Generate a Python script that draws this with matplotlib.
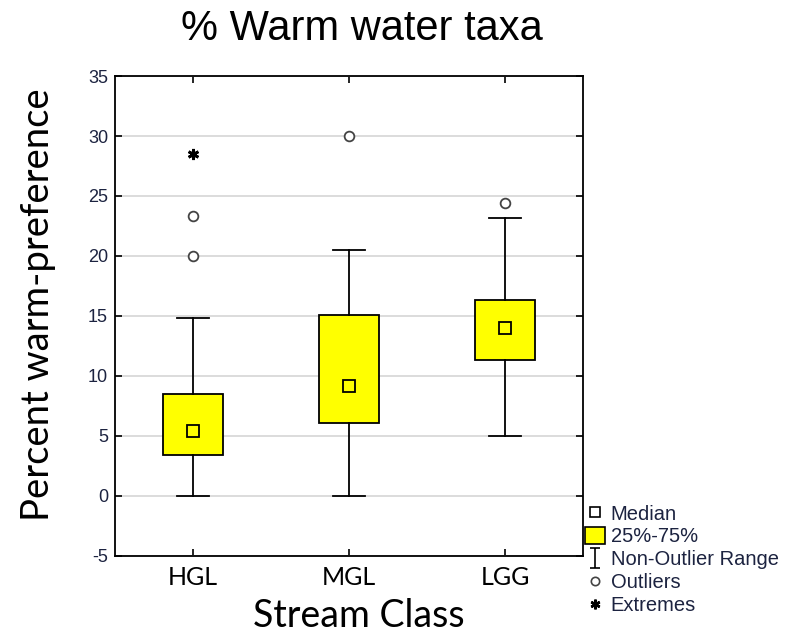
import matplotlib.pyplot as plt
from matplotlib.lines import Line2D
from matplotlib.patches import Patch
from matplotlib.path import Path

plt.rcParams['axes.unicode_minus'] = False

# Data
classes = ['HGL', 'MGL', 'LGG']
medians = [5.4, 9.2, 14.0]
q1 = [3.4, 6.1, 11.3]
q3 = [8.5, 15.1, 16.3]
whisk_lo = [0.0, 0.0, 5.0]
whisk_hi = [14.8, 20.5, 23.2]
outliers = [[20.0, 23.3], [30.0], [24.4]]
extremes = [[28.5], [], []]

box_yellow = '#ffff00'
text_col = '#1c2340'

fig = plt.figure(figsize=(7.98, 6.36), dpi=100)
ax = fig.add_axes([0.1441, 0.1258, 0.5865, 0.7547])

stats = []
for i, c in enumerate(classes):
    stats.append({'label': c, 'med': medians[i], 'q1': q1[i], 'q3': q3[i],
                  'whislo': whisk_lo[i], 'whishi': whisk_hi[i], 'fliers': []})

pos = [1, 2, 3]
ax.bxp(stats, positions=pos, widths=0.39, capwidths=0.2, patch_artist=True,
       showfliers=False,
       boxprops=dict(facecolor=box_yellow, edgecolor='black', linewidth=1.3),
       whiskerprops=dict(color='black', linewidth=1.3),
       capprops=dict(color='black', linewidth=1.3),
       medianprops=dict(linewidth=0))

# median markers
ax.plot(pos, medians, linestyle='none', marker='s', markersize=8,
        markerfacecolor=box_yellow, markeredgecolor='black', markeredgewidth=1.3, zorder=5)

# outliers and extremes
for i, p in enumerate(pos):
    if outliers[i]:
        ax.plot([p] * len(outliers[i]), outliers[i], linestyle='none', marker='o',
                markersize=7, markerfacecolor='white', markeredgecolor='#444444',
                markeredgewidth=1.3)
    if extremes[i]:
        ax.plot([p] * len(extremes[i]), extremes[i], linestyle='none', marker=(6, 2, 0),
                markersize=8, markeredgecolor='black', markeredgewidth=2)

ax.set_xlim(0.5, 3.5)
ax.set_ylim(-5, 35)
ax.set_yticks(range(-5, 36, 5))
ax.set_xticks(pos)
ax.set_xticklabels(classes, fontsize=18, family='Lato')
for t in ax.get_yticklabels():
    t.set_fontsize(13)
    t.set_family('Liberation Sans')
    t.set_color(text_col)
ax.tick_params(direction='in', top=True, right=True, length=5, width=1.2)
ax.tick_params(axis='x', pad=7)
ax.tick_params(axis='y', pad=5)
ax.yaxis.grid(True, color='#d9d9d9', linewidth=1.3)
ax.set_axisbelow(True)
for s in ax.spines.values():
    s.set_linewidth(1.3)

fig.text(0.454, 0.955, '% Warm water taxa', ha='center', va='center',
         fontsize=30, family='Liberation Sans')
ax.set_ylabel('Percent warm-preference', fontsize=27.5, family='Lato')
ax.yaxis.set_label_coords(-0.127, 0.523)
ax.set_xlabel('Stream Class', fontsize=27, family='Lato')
ax.xaxis.set_label_coords(0.52, -0.088)

# legend
whisker_path = Path([(-0.5, -1), (0.5, -1), (0, -1), (0, 1), (-0.5, 1), (0.5, 1)],
                    [Path.MOVETO, Path.LINETO, Path.MOVETO, Path.LINETO, Path.MOVETO, Path.LINETO])
handles = [
    Line2D([], [], linestyle='none', marker='s', markersize=7, markerfacecolor='white',
           markeredgecolor='black', markeredgewidth=1.2),
    Patch(facecolor=box_yellow, edgecolor='black', linewidth=1.2),
    Line2D([], [], linestyle='none', marker=whisker_path, markersize=14,
           markeredgecolor='black', markeredgewidth=1.2),
    Line2D([], [], linestyle='none', marker='o', markersize=6, markerfacecolor='white',
           markeredgecolor='#444444', markeredgewidth=1.2),
    Line2D([], [], linestyle='none', marker=(6, 2, 0), markersize=7,
           markeredgecolor='black', markeredgewidth=1.8),
]
labels = ['Median', '25%-75%', 'Non-Outlier Range', 'Outliers', 'Extremes']
leg = fig.legend(handles, labels, loc='upper left', bbox_to_anchor=(0.72, 0.223),
                 frameon=False, handlelength=1.0, handleheight=0.9,
                 handletextpad=0.3, labelspacing=0.18, borderpad=0,
                 prop={'family': 'Liberation Sans', 'size': 14.5})
for t in leg.get_texts():
    t.set_color(text_col)

plt.savefig('out.png')
